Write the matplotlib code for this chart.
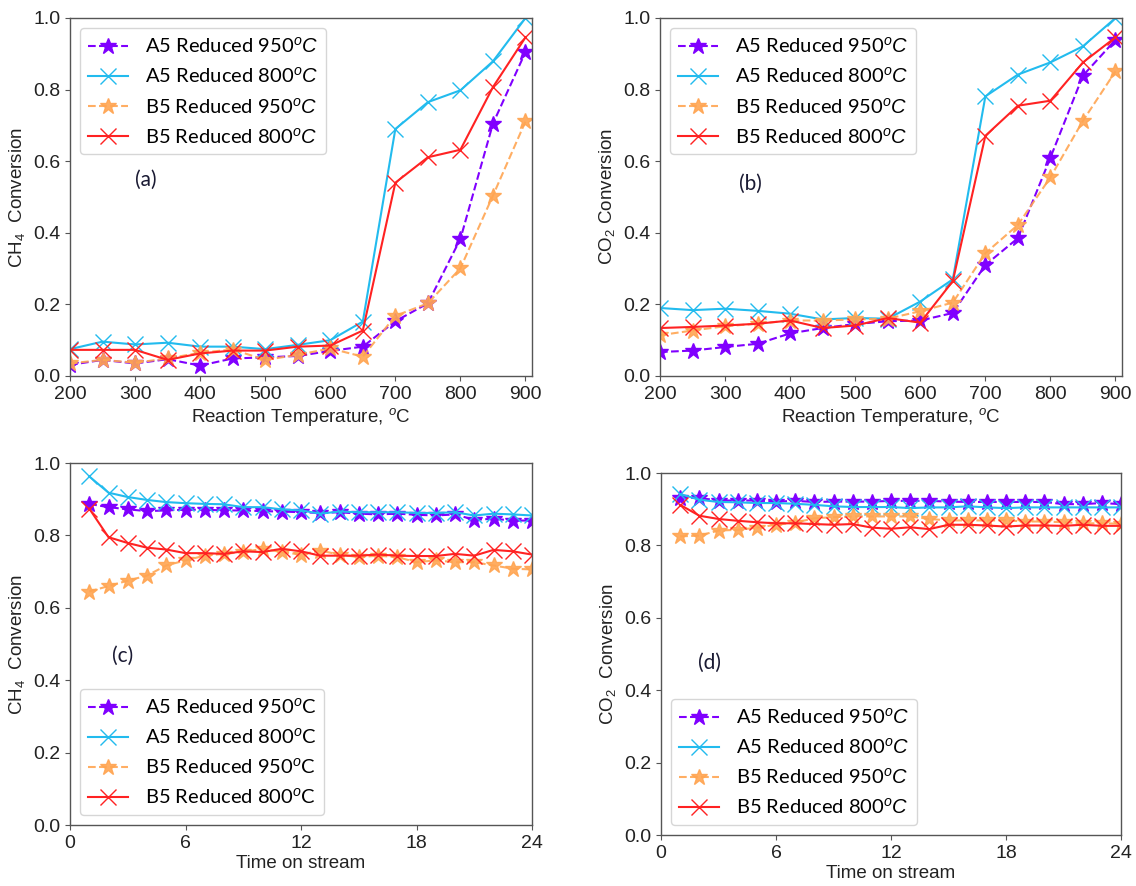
import matplotlib
matplotlib.use("Agg")
import matplotlib.pyplot as plt

plt.rcParams['font.family'] = ['Liberation Sans', 'DejaVu Sans']
plt.rcParams['mathtext.fontset'] = 'custom'
plt.rcParams['mathtext.rm'] = 'Liberation Sans'
plt.rcParams['mathtext.it'] = 'Liberation Sans:italic'

# temperature programmed runs (a, b)
temp = [200, 250, 300, 350, 400, 450, 500, 550, 600, 650, 700, 750, 800, 850, 900]

ch4_a5_950 = [0.031, 0.045, 0.035, 0.047, 0.029, 0.049, 0.052, 0.056, 0.070, 0.082, 0.153, 0.203, 0.383, 0.705, 0.905]
ch4_a5_800 = [0.075, 0.096, 0.088, 0.093, 0.082, 0.082, 0.075, 0.087, 0.100, 0.152, 0.690, 0.765, 0.798, 0.879, 1.000]
ch4_b5_950 = [0.035, 0.045, 0.037, 0.049, 0.065, 0.074, 0.045, 0.059, 0.077, 0.054, 0.168, 0.203, 0.301, 0.504, 0.711]
ch4_b5_800 = [0.073, 0.073, 0.073, 0.045, 0.063, 0.071, 0.071, 0.082, 0.085, 0.127, 0.540, 0.611, 0.632, 0.807, 0.946]

co2_a5_950 = [0.067, 0.071, 0.081, 0.090, 0.119, 0.134, 0.145, 0.153, 0.155, 0.176, 0.310, 0.385, 0.610, 0.839, 0.939]
co2_a5_800 = [0.190, 0.184, 0.188, 0.182, 0.174, 0.158, 0.162, 0.160, 0.208, 0.270, 0.781, 0.842, 0.876, 0.921, 1.000]
co2_b5_950 = [0.114, 0.127, 0.139, 0.146, 0.155, 0.155, 0.158, 0.160, 0.181, 0.205, 0.343, 0.422, 0.555, 0.713, 0.851]
co2_b5_800 = [0.134, 0.137, 0.141, 0.146, 0.155, 0.134, 0.141, 0.162, 0.149, 0.265, 0.671, 0.755, 0.769, 0.876, 0.946]

# stability runs (c, d)
hours = list(range(1, 25))

tos_ch4_a5_950 = [0.887, 0.878, 0.872, 0.867, 0.869, 0.871, 0.871, 0.869, 0.869, 0.867, 0.866, 0.864,
                  0.862, 0.864, 0.860, 0.858, 0.860, 0.857, 0.855, 0.858, 0.843, 0.846, 0.841, 0.841]
tos_ch4_a5_800 = [0.963, 0.918, 0.906, 0.898, 0.892, 0.889, 0.887, 0.886, 0.878, 0.878, 0.872, 0.869,
                  0.860, 0.866, 0.864, 0.864, 0.864, 0.862, 0.862, 0.864, 0.855, 0.860, 0.858, 0.855]
tos_ch4_b5_950 = [0.645, 0.660, 0.675, 0.689, 0.717, 0.731, 0.744, 0.749, 0.754, 0.763, 0.754, 0.747,
                  0.758, 0.747, 0.740, 0.744, 0.740, 0.726, 0.731, 0.726, 0.726, 0.717, 0.708, 0.706]
tos_ch4_b5_800 = [0.874, 0.795, 0.779, 0.766, 0.761, 0.751, 0.751, 0.749, 0.756, 0.754, 0.763, 0.756,
                  0.744, 0.744, 0.744, 0.747, 0.744, 0.743, 0.743, 0.749, 0.744, 0.760, 0.756, 0.747]

tos_co2_a5_950 = [0.931, 0.931, 0.924, 0.924, 0.924, 0.921, 0.923, 0.920, 0.921, 0.921, 0.921, 0.923,
                  0.923, 0.923, 0.921, 0.920, 0.920, 0.920, 0.920, 0.920, 0.914, 0.914, 0.917, 0.914]
tos_co2_a5_800 = [0.942, 0.926, 0.920, 0.919, 0.917, 0.917, 0.915, 0.912, 0.908, 0.906, 0.906, 0.906,
                  0.903, 0.905, 0.905, 0.908, 0.905, 0.903, 0.905, 0.905, 0.905, 0.905, 0.905, 0.905]
tos_co2_b5_950 = [0.825, 0.827, 0.841, 0.843, 0.849, 0.857, 0.863, 0.875, 0.878, 0.880, 0.880, 0.880,
                  0.880, 0.873, 0.869, 0.869, 0.869, 0.869, 0.866, 0.866, 0.864, 0.861, 0.861, 0.860]
tos_co2_b5_800 = [0.912, 0.882, 0.873, 0.868, 0.864, 0.861, 0.861, 0.859, 0.857, 0.859, 0.849, 0.846,
                  0.850, 0.845, 0.857, 0.857, 0.855, 0.852, 0.855, 0.855, 0.854, 0.857, 0.854, 0.854]

labels_it = ["A5 Reduced 950$^oC$", "A5 Reduced 800$^oC$", "B5 Reduced 950$^oC$", "B5 Reduced 800$^oC$"]
labels_up = ["A5 Reduced 950$^o$C", "A5 Reduced 800$^o$C", "B5 Reduced 950$^o$C", "B5 Reduced 800$^o$C"]

styles = [
    dict(color='#8000ff', ls='--', marker='*', ms=12, lw=1.5),
    dict(color='#22bbee', ls='-', marker='x', ms=12, mew=1.0, lw=1.5),
    dict(color='#ffa552', ls='--', marker='*', ms=12, lw=1.5, alpha=0.9),
    dict(color='#ff2222', ls='-', marker='x', ms=12, mew=1.0, lw=1.5),
]

W, H = 1136, 886
fig = plt.figure(figsize=(W / 100, H / 100), dpi=100)


def add_panel(l, r, t, b):
    return fig.add_axes([l / W, 1 - b / H, (r - l) / W, (b - t) / H])


def style_axes(ax):
    for s in ax.spines.values():
        s.set_color('#555555')
        s.set_linewidth(1.0)
    ax.tick_params(labelsize=14, colors='#555555', labelcolor='#222222')
    ax.set_ylim(0, 1.0)


def draw(ax, x, series, labels, loc, xlabel, ylabel, tag, tagpos):
    for ys, lab, st in zip(series, labels, styles):
        ax.plot(x, ys, label=lab, **st)
    style_axes(ax)
    ax.set_xlabel(xlabel, fontsize=13.5, color='#222222', labelpad=2)
    ax.set_ylabel(ylabel, fontsize=13.5, color='#222222')
    leg = ax.legend(loc=loc, prop={'family': 'Lato', 'size': 14.5})
    ax.text(tagpos[0], tagpos[1], tag, transform=ax.transAxes, fontsize=15,
            family='Lato', color='#1a1a33')
    return leg


ax_a = add_panel(70, 532, 18, 376)
draw(ax_a, temp, [ch4_a5_950, ch4_a5_800, ch4_b5_950, ch4_b5_800], labels_it,
     'upper left', "Reaction Temperature, $^o$C", "CH$_4$  Conversion", "(a)", (0.14, 0.53))
ax_a.set_xlim(200, 910)
ax_a.set_xticks(range(200, 901, 100))

ax_b = add_panel(660, 1122, 18, 376)
draw(ax_b, temp, [co2_a5_950, co2_a5_800, co2_b5_950, co2_b5_800], labels_it,
     'upper left', "Reaction Temperature, $^o$C", "CO$_2$ Conversion", "(b)", (0.17, 0.52))
ax_b.set_xlim(200, 910)
ax_b.set_xticks(range(200, 901, 100))

ax_c = add_panel(70, 532, 463, 825)
draw(ax_c, hours, [tos_ch4_a5_950, tos_ch4_a5_800, tos_ch4_b5_950, tos_ch4_b5_800], labels_up,
     'lower left', "Time on stream", "CH$_4$  Conversion", "(c)", (0.09, 0.45))
ax_c.set_xlim(0, 24)
ax_c.set_xticks(range(0, 25, 6))

ax_d = add_panel(661, 1121, 473, 835)
draw(ax_d, hours, [tos_co2_a5_950, tos_co2_a5_800, tos_co2_b5_950, tos_co2_b5_800], labels_it,
     'lower left', "Time on stream", "CO$_2$  Conversion", "(d)", (0.08, 0.46))
ax_d.set_xlim(0, 24)
ax_d.set_xticks(range(0, 25, 6))

fig.savefig("out.png", dpi=100)
